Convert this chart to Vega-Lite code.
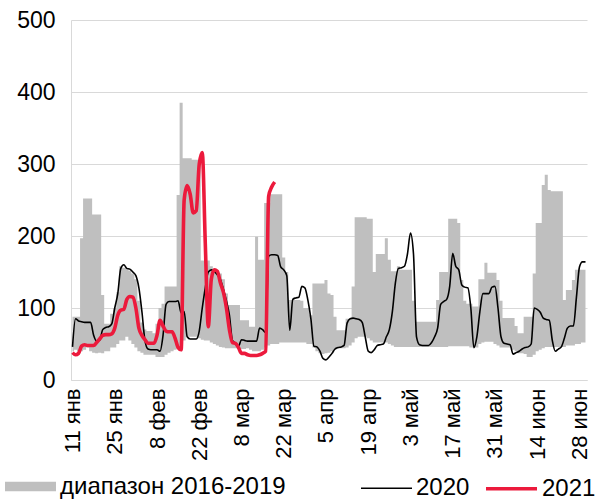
{
  "$schema": "https://vega.github.io/schema/vega-lite/v6.json",
  "width": 516,
  "height": 360,
  "autosize": {"type": "none"},
  "padding": {"left": 71, "top": 20, "right": 9, "bottom": 121},
  "background": "white",
  "data": {"values": [
    {"date":"2021-01-11","lo":40,"hi":88,"2020":46,"2021":38},
    {"date":"2021-01-12","lo":42,"hi":88,"2020":85,"2021":35},
    {"date":"2021-01-13","lo":40,"hi":88,"2020":82,"2021":37},
    {"date":"2021-01-14","lo":40,"hi":197,"2020":81,"2021":47},
    {"date":"2021-01-15","lo":42,"hi":252,"2020":80,"2021":49},
    {"date":"2021-01-16","lo":45,"hi":252,"2020":80,"2021":48},
    {"date":"2021-01-17","lo":40,"hi":252,"2020":80,"2021":48},
    {"date":"2021-01-18","lo":38,"hi":230,"2020":62,"2021":48},
    {"date":"2021-01-19","lo":37,"hi":230,"2020":54,"2021":52},
    {"date":"2021-01-20","lo":38,"hi":230,"2020":55,"2021":57},
    {"date":"2021-01-21","lo":37,"hi":118,"2020":70,"2021":62},
    {"date":"2021-01-22","lo":40,"hi":78,"2020":73,"2021":63},
    {"date":"2021-01-23","lo":40,"hi":78,"2020":74,"2021":63},
    {"date":"2021-01-24","lo":45,"hi":92,"2020":78,"2021":64},
    {"date":"2021-01-25","lo":45,"hi":100,"2020":100,"2021":72},
    {"date":"2021-01-26","lo":50,"hi":122,"2020":120,"2021":90},
    {"date":"2021-01-27","lo":55,"hi":158,"2020":155,"2021":97},
    {"date":"2021-01-28","lo":55,"hi":156,"2020":160,"2021":98},
    {"date":"2021-01-29","lo":60,"hi":155,"2020":155,"2021":112},
    {"date":"2021-01-30","lo":55,"hi":152,"2020":154,"2021":116},
    {"date":"2021-01-31","lo":50,"hi":148,"2020":150,"2021":115},
    {"date":"2021-02-01","lo":45,"hi":140,"2020":145,"2021":100},
    {"date":"2021-02-02","lo":40,"hi":110,"2020":128,"2021":72},
    {"date":"2021-02-03","lo":38,"hi":80,"2020":95,"2021":62},
    {"date":"2021-02-04","lo":35,"hi":70,"2020":55,"2021":56},
    {"date":"2021-02-05","lo":35,"hi":68,"2020":43,"2021":51},
    {"date":"2021-02-06","lo":35,"hi":68,"2020":42,"2021":51},
    {"date":"2021-02-07","lo":35,"hi":65,"2020":42,"2021":51},
    {"date":"2021-02-08","lo":32,"hi":78,"2020":42,"2021":62},
    {"date":"2021-02-09","lo":32,"hi":100,"2020":40,"2021":83},
    {"date":"2021-02-10","lo":32,"hi":106,"2020":62,"2021":75},
    {"date":"2021-02-11","lo":35,"hi":130,"2020":105,"2021":68},
    {"date":"2021-02-12","lo":38,"hi":130,"2020":109,"2021":67},
    {"date":"2021-02-13","lo":40,"hi":130,"2020":109,"2021":67},
    {"date":"2021-02-14","lo":42,"hi":130,"2020":109,"2021":58},
    {"date":"2021-02-15","lo":45,"hi":257,"2020":110,"2021":45},
    {"date":"2021-02-16","lo":48,"hi":385,"2020":93,"2021":42},
    {"date":"2021-02-17","lo":55,"hi":308,"2020":95,"2021":250},
    {"date":"2021-02-18","lo":60,"hi":308,"2020":60,"2021":270},
    {"date":"2021-02-19","lo":60,"hi":308,"2020":57,"2021":258},
    {"date":"2021-02-20","lo":60,"hi":306,"2020":57,"2021":232},
    {"date":"2021-02-21","lo":60,"hi":306,"2020":57,"2021":235},
    {"date":"2021-02-22","lo":58,"hi":306,"2020":68,"2021":300},
    {"date":"2021-02-23","lo":56,"hi":166,"2020":100,"2021":316},
    {"date":"2021-02-24","lo":55,"hi":166,"2020":128,"2021":190},
    {"date":"2021-02-25","lo":55,"hi":166,"2020":150,"2021":74},
    {"date":"2021-02-26","lo":52,"hi":158,"2020":153,"2021":140},
    {"date":"2021-02-27","lo":50,"hi":155,"2020":151,"2021":153},
    {"date":"2021-02-28","lo":48,"hi":150,"2020":146,"2021":151},
    {"date":"2021-03-01","lo":46,"hi":148,"2020":140,"2021":135},
    {"date":"2021-03-02","lo":45,"hi":140,"2020":126,"2021":122},
    {"date":"2021-03-03","lo":44,"hi":120,"2020":110,"2021":100},
    {"date":"2021-03-04","lo":44,"hi":104,"2020":90,"2021":70},
    {"date":"2021-03-05","lo":44,"hi":104,"2020":55,"2021":52},
    {"date":"2021-03-06","lo":44,"hi":104,"2020":51,"2021":51},
    {"date":"2021-03-07","lo":44,"hi":104,"2020":47,"2021":45},
    {"date":"2021-03-08","lo":43,"hi":83,"2020":56,"2021":37},
    {"date":"2021-03-09","lo":43,"hi":83,"2020":55,"2021":37},
    {"date":"2021-03-10","lo":44,"hi":83,"2020":54,"2021":35},
    {"date":"2021-03-11","lo":42,"hi":74,"2020":54,"2021":34},
    {"date":"2021-03-12","lo":40,"hi":74,"2020":54,"2021":34},
    {"date":"2021-03-13","lo":40,"hi":199,"2020":54,"2021":34},
    {"date":"2021-03-14","lo":40,"hi":167,"2020":72,"2021":35},
    {"date":"2021-03-15","lo":42,"hi":167,"2020":70,"2021":37},
    {"date":"2021-03-16","lo":45,"hi":246,"2020":66,"2021":40},
    {"date":"2021-03-17","lo":48,"hi":246,"2020":172,"2021":255},
    {"date":"2021-03-18","lo":50,"hi":258,"2020":174,"2021":268},
    {"date":"2021-03-19","lo":50,"hi":258,"2020":174,"2021":275},
    {"date":"2021-03-20","lo":50,"hi":258,"2020":173},
    {"date":"2021-03-21","lo":52,"hi":258,"2020":157},
    {"date":"2021-03-22","lo":52,"hi":170,"2020":153},
    {"date":"2021-03-23","lo":52,"hi":150,"2020":145},
    {"date":"2021-03-24","lo":52,"hi":111,"2020":69},
    {"date":"2021-03-25","lo":52,"hi":111,"2020":112},
    {"date":"2021-03-26","lo":52,"hi":111,"2020":114},
    {"date":"2021-03-27","lo":52,"hi":111,"2020":115},
    {"date":"2021-03-28","lo":52,"hi":110,"2020":130},
    {"date":"2021-03-29","lo":52,"hi":100,"2020":128},
    {"date":"2021-03-30","lo":50,"hi":100,"2020":111},
    {"date":"2021-03-31","lo":50,"hi":90,"2020":85},
    {"date":"2021-04-01","lo":45,"hi":134,"2020":47},
    {"date":"2021-04-02","lo":40,"hi":134,"2020":46},
    {"date":"2021-04-03","lo":37,"hi":134,"2020":40},
    {"date":"2021-04-04","lo":36,"hi":134,"2020":30},
    {"date":"2021-04-05","lo":37,"hi":139,"2020":28},
    {"date":"2021-04-06","lo":38,"hi":120,"2020":32},
    {"date":"2021-04-07","lo":40,"hi":118,"2020":37},
    {"date":"2021-04-08","lo":42,"hi":88,"2020":43},
    {"date":"2021-04-09","lo":44,"hi":69,"2020":45},
    {"date":"2021-04-10","lo":44,"hi":69,"2020":46},
    {"date":"2021-04-11","lo":44,"hi":69,"2020":48},
    {"date":"2021-04-12","lo":45,"hi":85,"2020":79},
    {"date":"2021-04-13","lo":48,"hi":85,"2020":85},
    {"date":"2021-04-14","lo":52,"hi":130,"2020":86},
    {"date":"2021-04-15","lo":58,"hi":226,"2020":85},
    {"date":"2021-04-16","lo":60,"hi":226,"2020":84},
    {"date":"2021-04-17","lo":60,"hi":226,"2020":80},
    {"date":"2021-04-18","lo":60,"hi":226,"2020":60},
    {"date":"2021-04-19","lo":58,"hi":224,"2020":40},
    {"date":"2021-04-20","lo":55,"hi":224,"2020":38},
    {"date":"2021-04-21","lo":52,"hi":150,"2020":42},
    {"date":"2021-04-22","lo":52,"hi":175,"2020":48},
    {"date":"2021-04-23","lo":52,"hi":175,"2020":49},
    {"date":"2021-04-24","lo":52,"hi":175,"2020":50},
    {"date":"2021-04-25","lo":52,"hi":197,"2020":60},
    {"date":"2021-04-26","lo":50,"hi":167,"2020":70},
    {"date":"2021-04-27","lo":48,"hi":151,"2020":95},
    {"date":"2021-04-28","lo":46,"hi":151,"2020":135},
    {"date":"2021-04-29","lo":46,"hi":158,"2020":155},
    {"date":"2021-04-30","lo":46,"hi":153,"2020":156},
    {"date":"2021-05-01","lo":46,"hi":153,"2020":158},
    {"date":"2021-05-02","lo":46,"hi":153,"2020":175},
    {"date":"2021-05-03","lo":46,"hi":153,"2020":204},
    {"date":"2021-05-04","lo":46,"hi":110,"2020":175},
    {"date":"2021-05-05","lo":46,"hi":81,"2020":60},
    {"date":"2021-05-06","lo":46,"hi":81,"2020":49},
    {"date":"2021-05-07","lo":46,"hi":81,"2020":48},
    {"date":"2021-05-08","lo":46,"hi":81,"2020":48},
    {"date":"2021-05-09","lo":46,"hi":81,"2020":48},
    {"date":"2021-05-10","lo":46,"hi":81,"2020":52},
    {"date":"2021-05-11","lo":46,"hi":81,"2020":60},
    {"date":"2021-05-12","lo":46,"hi":111,"2020":72},
    {"date":"2021-05-13","lo":46,"hi":150,"2020":105},
    {"date":"2021-05-14","lo":46,"hi":150,"2020":109},
    {"date":"2021-05-15","lo":46,"hi":150,"2020":112},
    {"date":"2021-05-16","lo":47,"hi":224,"2020":130},
    {"date":"2021-05-17","lo":47,"hi":224,"2020":176},
    {"date":"2021-05-18","lo":47,"hi":224,"2020":158},
    {"date":"2021-05-19","lo":47,"hi":218,"2020":153},
    {"date":"2021-05-20","lo":47,"hi":139,"2020":132},
    {"date":"2021-05-21","lo":47,"hi":110,"2020":129},
    {"date":"2021-05-22","lo":47,"hi":106,"2020":128},
    {"date":"2021-05-23","lo":45,"hi":106,"2020":100},
    {"date":"2021-05-24","lo":45,"hi":102,"2020":45},
    {"date":"2021-05-25","lo":45,"hi":102,"2020":60},
    {"date":"2021-05-26","lo":50,"hi":140,"2020":95},
    {"date":"2021-05-27","lo":52,"hi":140,"2020":120},
    {"date":"2021-05-28","lo":53,"hi":163,"2020":120},
    {"date":"2021-05-29","lo":53,"hi":149,"2020":120},
    {"date":"2021-05-30","lo":53,"hi":149,"2020":129},
    {"date":"2021-05-31","lo":50,"hi":149,"2020":130},
    {"date":"2021-06-01","lo":48,"hi":139,"2020":100},
    {"date":"2021-06-02","lo":45,"hi":110,"2020":60},
    {"date":"2021-06-03","lo":45,"hi":86,"2020":51},
    {"date":"2021-06-04","lo":45,"hi":86,"2020":50},
    {"date":"2021-06-05","lo":45,"hi":86,"2020":49},
    {"date":"2021-06-06","lo":42,"hi":86,"2020":36},
    {"date":"2021-06-07","lo":40,"hi":75,"2020":38},
    {"date":"2021-06-08","lo":37,"hi":65,"2020":40},
    {"date":"2021-06-09","lo":37,"hi":65,"2020":43},
    {"date":"2021-06-10","lo":36,"hi":88,"2020":45},
    {"date":"2021-06-11","lo":32,"hi":88,"2020":46},
    {"date":"2021-06-12","lo":32,"hi":88,"2020":50},
    {"date":"2021-06-13","lo":35,"hi":148,"2020":100},
    {"date":"2021-06-14","lo":40,"hi":218,"2020":98},
    {"date":"2021-06-15","lo":42,"hi":218,"2020":94},
    {"date":"2021-06-16","lo":44,"hi":271,"2020":86},
    {"date":"2021-06-17","lo":46,"hi":285,"2020":84},
    {"date":"2021-06-18","lo":46,"hi":264,"2020":83},
    {"date":"2021-06-19","lo":46,"hi":262,"2020":55},
    {"date":"2021-06-20","lo":46,"hi":262,"2020":40},
    {"date":"2021-06-21","lo":46,"hi":262,"2020":43},
    {"date":"2021-06-22","lo":46,"hi":262,"2020":46},
    {"date":"2021-06-23","lo":46,"hi":111,"2020":58},
    {"date":"2021-06-24","lo":48,"hi":125,"2020":72},
    {"date":"2021-06-25","lo":48,"hi":125,"2020":75},
    {"date":"2021-06-26","lo":48,"hi":139,"2020":75},
    {"date":"2021-06-27","lo":50,"hi":153,"2020":115},
    {"date":"2021-06-28","lo":50,"hi":153,"2020":157},
    {"date":"2021-06-29","lo":52,"hi":153,"2020":164},
    {"date":"2021-06-30","lo":52,"hi":153,"2020":164}
  ]},
  "config": {
    "font": "Liberation Sans",
    "view": {"stroke": null},
    "axis": {"labelColor": "#000000", "domainColor": "#d9d9d9", "ticks": false, "labelFont": "Liberation Sans", "labelFlush": false},
    "axisY": {"gridColor": "#d9d9d9", "labelFontSize": 23, "labelPadding": 16},
    "axisX": {"grid": false, "labelFontSize": 22, "labelAngle": -90, "labelPadding": 8},
    "legend": {"labelFontSize": 24, "labelColor": "#000000", "labelFont": "Liberation Sans", "padding": 0, "labelLimit": 400}
  },
  "layer": [
    {
      "mark": {"type": "area", "interpolate": "step"},
      "encoding": {
        "x": {
          "field": "date", "type": "temporal",
          "scale": {"type": "utc", "domain": [
            {"year": 2021, "month": 1, "date": 10, "hours": 12, "utc": true},
            {"year": 2021, "month": 6, "date": 30, "hours": 12, "utc": true}
          ]},
          "axis": {
            "title": null,
            "labelOverlap": false,
            "values": [
              {"year": 2021, "month": 1, "date": 11, "utc": true},
              {"year": 2021, "month": 1, "date": 25, "utc": true},
              {"year": 2021, "month": 2, "date": 8, "utc": true},
              {"year": 2021, "month": 2, "date": 22, "utc": true},
              {"year": 2021, "month": 3, "date": 8, "utc": true},
              {"year": 2021, "month": 3, "date": 22, "utc": true},
              {"year": 2021, "month": 4, "date": 5, "utc": true},
              {"year": 2021, "month": 4, "date": 19, "utc": true},
              {"year": 2021, "month": 5, "date": 3, "utc": true},
              {"year": 2021, "month": 5, "date": 17, "utc": true},
              {"year": 2021, "month": 5, "date": 31, "utc": true},
              {"year": 2021, "month": 6, "date": 14, "utc": true},
              {"year": 2021, "month": 6, "date": 28, "utc": true}
            ],
            "labelExpr": "utcdate(datum.value) + ' ' + ['янв','фев','мар','апр','май','июн','июл'][utcmonth(datum.value)]"
          }
        },
        "y": {
          "field": "lo", "type": "quantitative",
          "scale": {"domain": [0, 500], "nice": false},
          "axis": {"title": null, "values": [0, 100, 200, 300, 400, 500]}
        },
        "y2": {"field": "hi"},
        "fill": {
          "datum": "диапазон 2016-2019",
          "scale": {"range": ["#bfbfbf"]},
          "legend": {
            "orient": "none", "legendX": -66, "legendY": 441, "title": null,
            "symbolType": "M-1,-0.19H1V0.19H-1Z", "symbolSize": 2601,
            "symbolStrokeWidth": 0, "labelOffset": 4, "labelFontSize": 24, "labelLimit": 400
          }
        }
      }
    },
    {
      "transform": [
        {"fold": ["2020", "2021"], "as": ["series", "value"]},
        {"filter": "isValid(datum.value)"}
      ],
      "mark": {"type": "line", "interpolate": "monotone"},
      "encoding": {
        "x": {"field": "date", "type": "temporal"},
        "y": {"field": "value", "type": "quantitative", "axis": {"title": null}},
        "stroke": {
          "field": "series", "type": "nominal",
          "scale": {"domain": ["2020", "2021"], "range": ["#000000", "#ec1a3c"]},
          "legend": {
            "orient": "none", "legendX": 289, "legendY": 441, "title": null,
            "direction": "horizontal", "symbolType": "stroke", "symbolSize": 2601,
            "labelOffset": 3, "columnPadding": 8, "labelFontSize": 24
          }
        },
        "strokeWidth": {
          "field": "series", "type": "nominal",
          "scale": {"domain": ["2020", "2021"], "range": [1.6, 3.6]}
        }
      }
    }
  ]
}
